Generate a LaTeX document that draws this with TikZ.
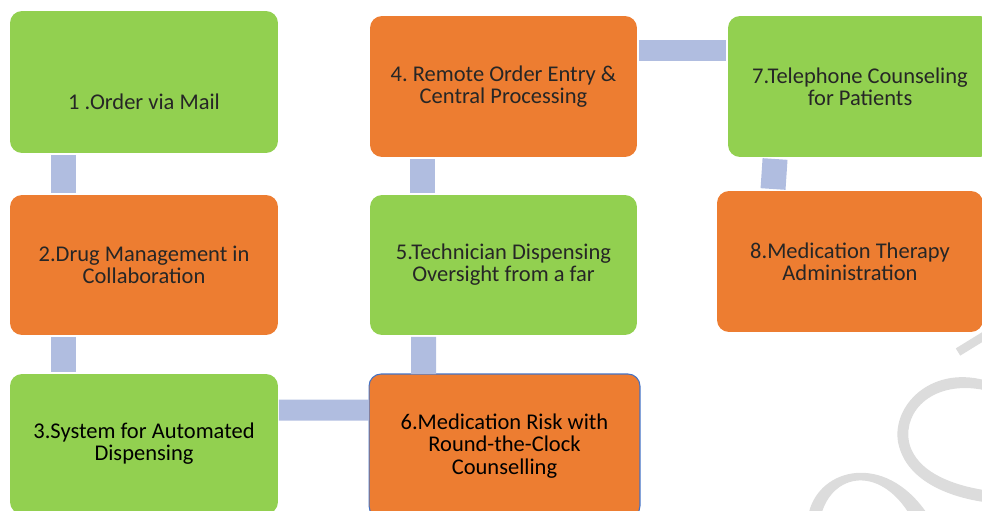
\documentclass[tikz,border=0pt]{standalone}
\usepackage{fontspec}
\setmainfont{Carlito}
\frenchspacing
\usetikzlibrary{calc,positioning}
\definecolor{boxgreen}{HTML}{92D050}
\definecolor{boxorange}{HTML}{ED7D31}
\definecolor{barblue}{HTML}{B0BDE0}
\definecolor{edgeblue}{HTML}{4472C4}
\definecolor{markgray}{HTML}{DCDCDC}
\tikzset{
  box/.style={rectangle, rounded corners=0.24cm, minimum width=5.36cm, minimum height=2.8cm, inner sep=0pt, outer sep=0pt, align=center, font=\fontsize{12.8}{12.6}\selectfont, text=black!85},
  greenbox/.style={box, fill=boxgreen},
  orangebox/.style={box, fill=boxorange},
  vbar/.style={draw=barblue, line width=0.5cm},
  hbar/.style={draw=barblue, line width=0.42cm},
  mark line/.style={draw=markgray, line width=0.17cm}
}
\begin{document}
\begin{tikzpicture}[x=0.02cm, y=-0.02cm]
\useasboundingbox (0,0) rectangle (982,510);
\clip (0,0) rectangle (982,510);
\fill[markgray] (984,380) .. controls (930,366) and (892,406) .. (898,442) .. controls (906,484) and (956,498) .. (984,502)
  -- (984,490) .. controls (958,486) and (916,474) .. (909,442) .. controls (903,410) and (934,380) .. (984,390) -- cycle;
\fill[markgray] (809,512) .. controls (820,468) and (884,452) .. (926,512) -- (908,512) .. controls (878,466) and (834,474) .. (822,512) -- cycle;
\draw[mark line] (958,352) -- (984,336);
\node[greenbox, minimum height=2.84cm] (b1) at (144,82) {};
\node[box] (t1) at ($(b1)+(0,20)$) {1 .Order via Mail};
\node[orangebox] (b2) at (144,265) {2.Drug Management in\\Collaboration};
\node[greenbox, text=black] (b3) at (144,444) {3.System for Automated\\Dispensing};
\node[orangebox, minimum width=5.34cm, minimum height=2.82cm] (b4) at (503.5,86.5) {4. Remote Order Entry \&\\Central Processing};
\node[greenbox, minimum width=5.34cm] (b5) at (503.5,265) {5.Technician Dispensing\\Oversight from a far};
\node[orangebox, draw=edgeblue, line width=0.6pt, minimum width=5.42cm, minimum height=2.88cm, text=black] (b6) at (504.5,446) {6.Medication Risk with\\Round-the-Clock\\Counselling};
\node[greenbox, minimum width=5.28cm, minimum height=2.82cm] (b7) at (860,86.5) {7.Telephone Counseling\\for Patients};
\node[orangebox, minimum width=5.32cm, minimum height=2.82cm] (b8) at (850,261.5) {8.Medication Therapy\\Administration};
\draw[vbar] ($(b1.south west)+(53.5,2)$) -- ($(b2.north west)+(53.5,-2)$);
\draw[vbar] ($(b2.south west)+(53.5,2)$) -- ($(b3.north west)+(53.5,-2)$);
\draw[hbar] ($(b3.north east)+(1,36)$) -- ($(b6.north west)+(0,36)$);
\draw[vbar] ($(b4.south west)+(52.5,2)$) -- ($(b5.north west)+(52.5,-2)$);
\draw[vbar] ($(b5.south west)+(53.5,2)$) -- ($(b6.north west)+(54.5,0)$);
\draw[hbar] ($(b4.north east)+(2,34)$) -- ($(b7.north west)+(-2,34)$);
\draw[vbar] ($(b7.south west)+(47,2)$) -- ($(b8.north west)+(56,-2)$);
\end{tikzpicture}
\end{document}
